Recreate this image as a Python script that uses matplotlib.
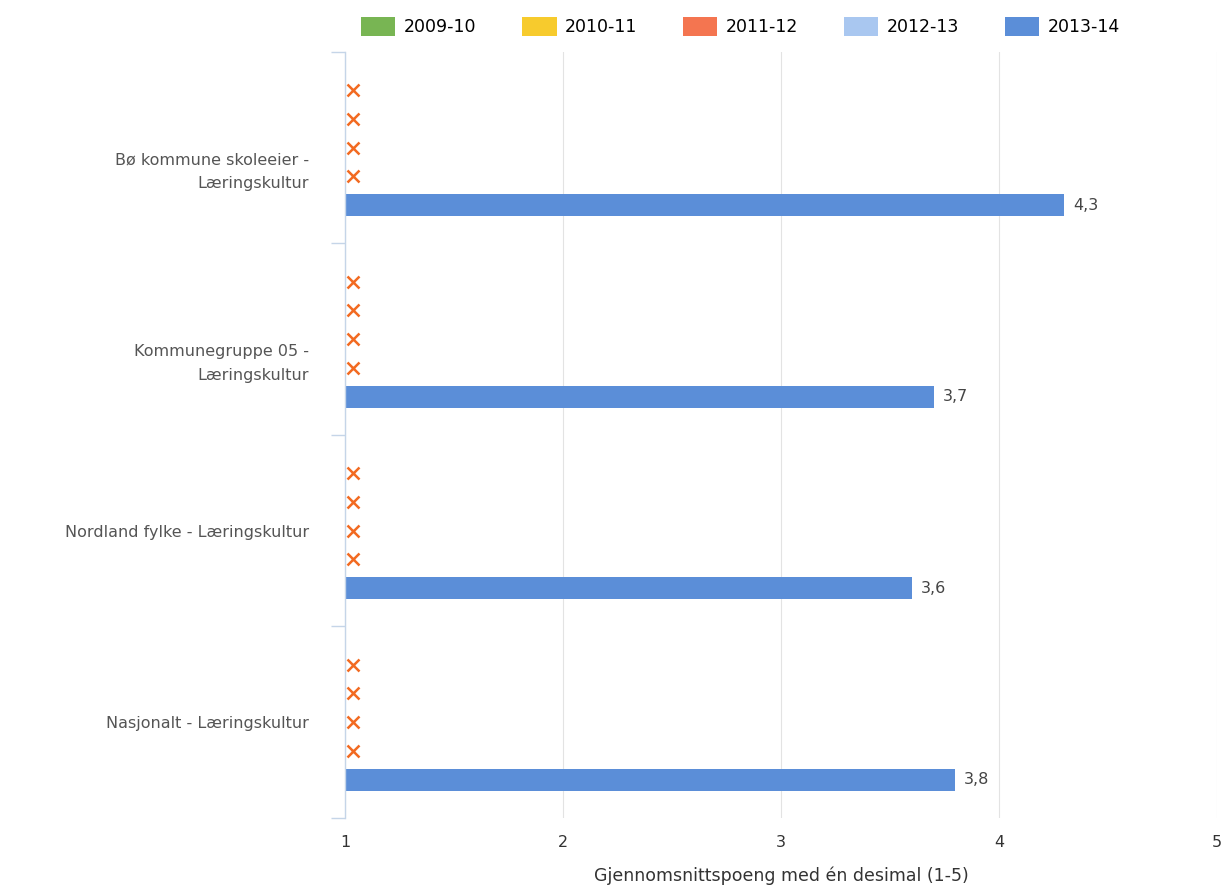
import matplotlib.pyplot as plt
import matplotlib.transforms as mtransforms
import numpy as np

categories = ['Bø kommune skoleeier -\nLæringskultur',
              'Kommunegruppe 05 -\nLæringskultur',
              'Nordland fylke - Læringskultur',
              'Nasjonalt - Læringskultur']
series_names = ['2009-10', '2010-11', '2011-12', '2012-13', '2013-14']
series_colors = ['#78B553', '#F7CB2D', '#F47550', '#A9C7F0', '#5B8ED8']
# None = no data (drawn as an x marker)
values = [
    [None, None, None, None],
    [None, None, None, None],
    [None, None, None, None],
    [None, None, None, None],
    [4.3, 3.7, 3.6, 3.8],
]

fig = plt.figure(figsize=(12.3, 8.93), dpi=100)
ax = fig.add_axes([0.2805, 0.084, 0.709, 0.858])

slot = 0.15
bar_h = 0.115
ypos = np.arange(len(categories))

for i, (name, col, vals) in enumerate(zip(series_names, series_colors, values)):
    off = (i - 2) * slot
    for j, v in enumerate(vals):
        y = ypos[j] + off
        if v is None:
            ax.plot(1.035, y, marker='x', color='#F26A21', markersize=9, mew=1.8, zorder=3)
        else:
            ax.barh(y, v - 1, left=1, height=bar_h, color=col, zorder=2)
            ax.text(v + 0.04, y, f'{v:.1f}'.replace('.', ','), va='center', ha='left',
                    fontsize=11.5, color='#444444')
    # legend proxy
    ax.bar(0, 0, color=col, label=name)

ax.set_xlim(1, 5)
ax.set_ylim(3.5, -0.5)
ax.set_xticks([1, 2, 3, 4, 5])
ax.set_xticklabels(['1', '2', '3', '4', '5'])
ax.tick_params(axis='x', length=0, pad=12, labelsize=11.5, labelcolor='#333333')
ax.set_yticks(ypos)
ax.set_yticklabels(categories, fontsize=11.5, color='#555555', ha='right',
                   linespacing=1.75)
ax.tick_params(axis='y', length=0, pad=26)
for lbl in ax.get_yticklabels():
    if '\n' in lbl.get_text():
        lbl.set_va('top')
        lbl.set_transform(lbl.get_transform() +
                          mtransforms.ScaledTranslation(0, -3.3 / 72, fig.dpi_scale_trans))
ax.set_yticks(np.arange(-0.5, 4.0, 1.0), minor=True)
ax.tick_params(axis='y', which='minor', length=10, color='#C5D5E8', width=1)

ax.grid(axis='x', color='#E3E3E3', linewidth=0.8, zorder=0)
for s in ['top', 'right', 'bottom']:
    ax.spines[s].set_visible(False)
ax.spines['left'].set_color('#C5D5E8')
ax.spines['left'].set_linewidth(1)

ax.set_xlabel('Gjennomsnittspoeng med én desimal (1-5)', fontsize=12.5, color='#333333',
              labelpad=12)

fig.legend(loc='center', bbox_to_anchor=(0.602, 0.97), ncol=5, frameon=False,
           fontsize=12.5, handlelength=2.0, handleheight=1.3, columnspacing=2.6,
           handletextpad=0.5)

fig.savefig('out.png', dpi=100, facecolor='white')
